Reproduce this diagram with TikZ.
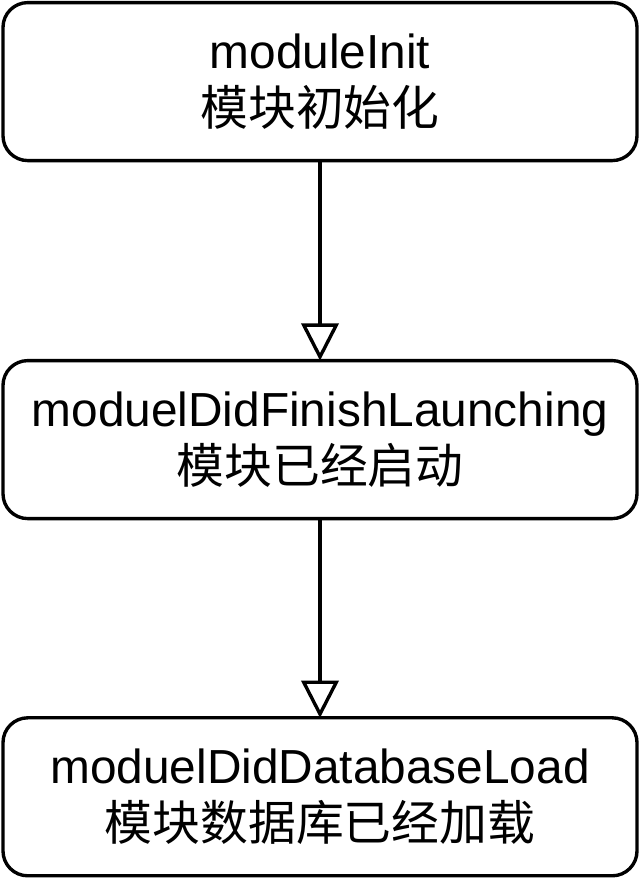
\documentclass[tikz,border=0pt]{standalone}
\usepackage{fontspec}
\setmainfont{Liberation Sans}
\newfontfamily\cjk{Noto Sans CJK SC}
\usepackage{tikz}
\usetikzlibrary{arrows.meta,positioning}
\tikzset{
  stagebox/.style = {draw, rounded corners=0.62cm, line width=2.4pt,
                     minimum width=15.85cm, minimum height=3.95cm,
                     align=center, inner sep=0pt, outer sep=0pt,
                     font=\fontsize{34}{40}\selectfont},
  nextstage/.style = {line width=2.4pt, -{Triangle[open, length=0.93cm, width=0.93cm]}},
}
\begin{document}
\begin{tikzpicture}[auto,node distance=5cm]
      \useasboundingbox (0,0) rectangle (16,-21.975);
      \node [stagebox] (init) at (8,-2.04) {moduleInit\\{\cjk 模块初始化}};
      \node [stagebox, below=of init] (launch) {moduelDidFinishLaunching\\{\cjk 模块已经启动}};
      \node [stagebox, below=4.98cm of launch] (dbload) {moduelDidDatabaseLoad\\{\cjk 模块数据库已经加载}};

      \path (init) edge[nextstage] (launch);
      \path (launch) edge[nextstage] (dbload);
\end{tikzpicture}
\end{document}
